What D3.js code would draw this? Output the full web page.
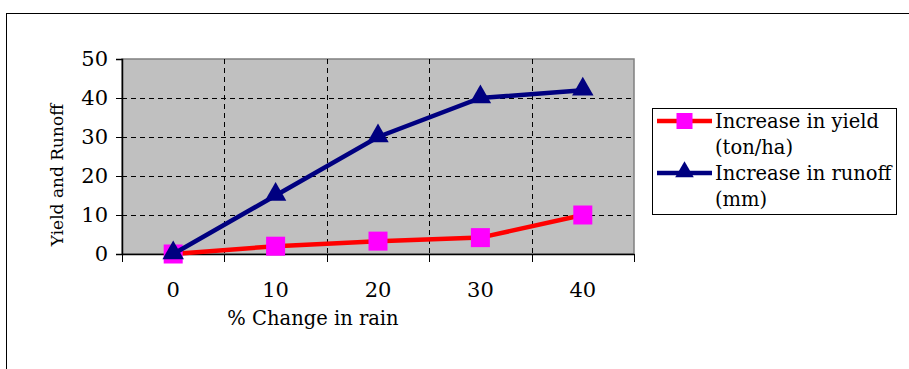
<!DOCTYPE html>
<html>
<head>
<meta charset="utf-8">
<script src="https://cdn.jsdelivr.net/npm/d3@7"></script>
<style>
  body { margin: 0; background: #fff; }
  svg { display: block; font-family: "DejaVu Serif", serif; }
  text { font-family: "DejaVu Serif", serif; }
</style>
</head>
<body>
<div id="chart"></div>
<script>
var categories = ["0", "10", "20", "30", "40"];
var yieldValues = [0, 2, 3.3, 4.2, 10];
var runoffValues = [0, 15, 30, 40, 42];
var yTicks = [0, 10, 20, 30, 40, 50];
var seriesNames = [["Increase in yield", "(ton/ha)"], ["Increase in runoff", "(mm)"]];

var width = 909, height = 369;
var plot = { left: 122, right: 634, top: 59, bottom: 254 };

var svg = d3.select("#chart").append("svg")
  .attr("width", width)
  .attr("height", height);

// outer chart frame
svg.append("rect")
  .attr("x", 6.5).attr("y", 13.5)
  .attr("width", 1000).attr("height", 1000)
  .style("fill", "#fff")
  .style("stroke", "#000")
  .style("stroke-width", 1);

var x = d3.scaleBand()
  .domain(categories)
  .range([plot.left, plot.right]);

var y = d3.scaleLinear()
  .domain([0, 50])
  .range([plot.bottom, plot.top]);

// plot area
svg.append("rect")
  .attr("x", plot.left).attr("y", plot.top)
  .attr("width", plot.right - plot.left)
  .attr("height", plot.bottom - plot.top)
  .style("fill", "#c0c0c0")
  .style("stroke", "#808080")
  .style("stroke-width", 1.5);

// horizontal dashed grid
svg.append("g").selectAll("line")
  .data(yTicks.filter(function(d){ return d > 0 && d < 50; }))
  .join("line")
  .attr("x1", plot.left).attr("x2", plot.right)
  .attr("y1", function(d){ return Math.round(y(d)) + 0.5; })
  .attr("y2", function(d){ return Math.round(y(d)) + 0.5; })
  .style("stroke", "#000")
  .style("stroke-dasharray", "5,4");

// vertical dashed grid between categories
svg.append("g").selectAll("line")
  .data(categories.slice(1))
  .join("line")
  .attr("x1", function(d){ return Math.round(x(d)) + 0.5; })
  .attr("x2", function(d){ return Math.round(x(d)) + 0.5; })
  .attr("y1", plot.top).attr("y2", plot.bottom)
  .style("stroke", "#000")
  .style("stroke-dasharray", "5,4");

// y axis
var yAxis = svg.append("g")
  .attr("transform", "translate(" + plot.left + ",0)")
  .call(d3.axisLeft(y).tickValues(yTicks).tickSize(6).tickPadding(8));
yAxis.select(".domain").style("stroke", "#000").style("stroke-width", 1.5);
yAxis.selectAll("text").style("font-size", "21px").style("font-family", "DejaVu Serif").attr("fill", "#000");

// x axis, ticks drawn at category boundaries below
var xAxis = svg.append("g")
  .attr("transform", "translate(0," + plot.bottom + ")")
  .call(d3.axisBottom(x).tickSize(0).tickPadding(28));
xAxis.select(".domain").style("stroke", "#000").style("stroke-width", 1.5);
xAxis.selectAll("text").style("font-size", "21px").style("font-family", "DejaVu Serif").attr("fill", "#000");

var bounds = categories.map(function(d){ return x(d); }).concat([plot.right]);
svg.append("g").selectAll("line")
  .data(bounds)
  .join("line")
  .attr("x1", function(d){ return Math.round(d) + 0.5; })
  .attr("x2", function(d){ return Math.round(d) + 0.5; })
  .attr("y1", plot.bottom).attr("y2", plot.bottom + 8)
  .style("stroke", "#000");

// axis titles
svg.append("text")
  .attr("x", 313)
  .attr("y", 325)
  .attr("text-anchor", "middle")
  .style("font-size", "19.5px")
  .text("% Change in rain");

svg.append("text")
  .attr("transform", "translate(63,175) rotate(-90)")
  .attr("text-anchor", "middle")
  .style("font-size", "17px")
  .text("Yield and Runoff");

var cx = function(d, i){ return x(categories[i]) + x.bandwidth() / 2; };

var lineGen = d3.line()
  .x(function(d, i){ return x(categories[i]) + x.bandwidth() / 2; })
  .y(function(d){ return y(d); });

var triangle = d3.symbol().type(d3.symbolTriangle).size(200);

// yield series
svg.append("path")
  .datum(yieldValues)
  .attr("d", lineGen)
  .style("fill", "none")
  .style("stroke", "#ff0000")
  .style("stroke-width", 4.5);

svg.append("g").selectAll("rect")
  .data(yieldValues)
  .join("rect")
  .attr("x", function(d, i){ return cx(d, i) - 9.5; })
  .attr("y", function(d){ return y(d) - 9.5; })
  .attr("width", 19).attr("height", 19)
  .style("fill", "#ff00ff");

// runoff series
svg.append("path")
  .datum(runoffValues)
  .attr("d", lineGen)
  .style("fill", "none")
  .style("stroke", "#000080")
  .style("stroke-width", 4.5);

svg.append("g").selectAll("path")
  .data(runoffValues)
  .join("path")
  .attr("d", triangle)
  .attr("transform", function(d, i){ return "translate(" + cx(d, i) + "," + (y(d) - 1) + ")"; })
  .style("fill", "#000080");

// legend
var legend = svg.append("g");
legend.append("rect")
  .attr("x", 652.5).attr("y", 108.5)
  .attr("width", 244).attr("height", 106)
  .style("fill", "#fff")
  .style("stroke", "#000")
  .style("stroke-width", 1);

var legendY = [121, 173];
var colors = ["#ff0000", "#000080"];
seriesNames.forEach(function(name, i){
  legend.append("line")
    .attr("x1", 657).attr("x2", 712)
    .attr("y1", legendY[i]).attr("y2", legendY[i])
    .style("stroke", colors[i])
    .style("stroke-width", 4.5);
  if (i === 0) {
    legend.append("rect")
      .attr("x", 684.5 - 8).attr("y", legendY[i] - 8)
      .attr("width", 16).attr("height", 16)
      .style("fill", "#ff00ff");
  } else {
    legend.append("path")
      .attr("d", d3.symbol().type(d3.symbolTriangle).size(150))
      .attr("transform", "translate(684.5," + (legendY[i] - 1) + ")")
      .style("fill", "#000080");
  }
  name.forEach(function(line, j){
    legend.append("text")
      .attr("x", 715)
      .attr("y", legendY[i] + 7 + j * 26)
      .style("font-size", "19.5px")
      .text(line);
  });
});
</script>
</body>
</html>
